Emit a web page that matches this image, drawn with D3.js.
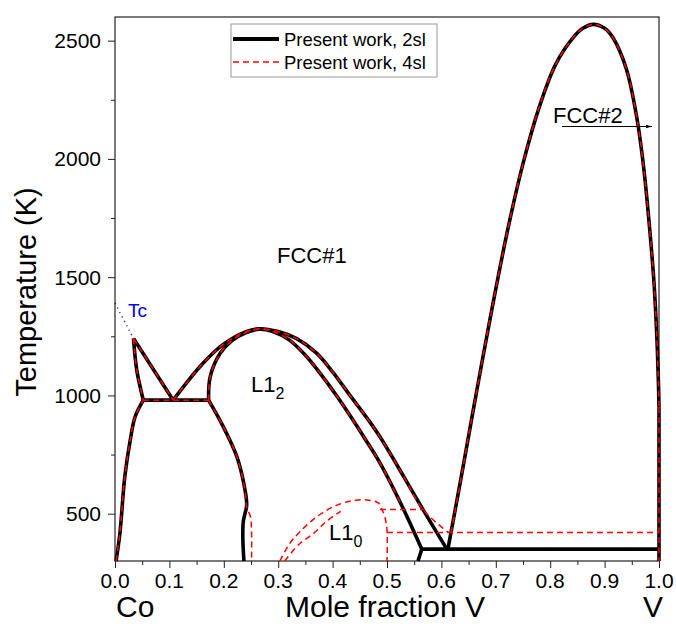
<!DOCTYPE html>
<html>
<head>
<meta charset="utf-8">
<script src="https://cdn.jsdelivr.net/npm/d3@7"></script>
<style>
  body { margin: 0; background: #fff; }
  svg { font-family: "Liberation Sans", Arial, sans-serif; }
</style>
</head>
<body>
<svg id="chart" width="676" height="626"></svg>
<script>
// phase boundaries, [mole fraction V, T in K]
const leftSolvus = [[0.002,300],[0.009,417],[0.018,656],[0.028,811],[0.037,910],[0.052,980]];
const triLeft = [[0.034,1241],[0.04,1107],[0.052,980]];
const triRight = [[0.034,1241],[0.107,980]];
const eutectoid = [[0.052,980],[0.172,980]];
const lowerBranch2sl = [[0.172,980],[0.199,868],[0.224,741],[0.239,600],[0.242,535],[0.236,470],[0.235,400],[0.237,300]];
const lowerBranch4sl = [[0.172,980],[0.199,868],[0.224,741],[0.239,600],[0.242,529],[0.249,487],[0.251,420],[0.251,300]];
const outerL12 = [[0.107,980],[0.156,1121],[0.193,1205],[0.217,1243],[0.242,1271],[0.265,1282],[0.30,1270],[0.334,1240],[0.37,1180],[0.40,1100],[0.432,1000],[0.463,905],[0.487,825],[0.53,660],[0.566,518],[0.61,350]];
const innerL12 = [[0.172,980],[0.175,1079],[0.193,1177],[0.215,1232],[0.24,1265],[0.265,1280],[0.29,1270],[0.32,1235],[0.35,1170],[0.38,1085],[0.41,990],[0.432,915],[0.46,815],[0.487,715],[0.526,540],[0.564,350]];
const innerStub = [[0.564,350],[0.557,300]];
const eutectoid350 = [[0.564,350],[1.0,350]];
const fcc2Dome = [[0.612,350],[0.64,700],[0.665,1020],[0.69,1330],[0.72,1680],[0.75,1980],[0.78,2220],[0.81,2400],[0.843,2515],[0.86,2552],[0.879,2569],[0.90,2552],[0.916,2510],[0.94,2380],[0.959,2177],[0.972,1960],[0.983,1700],[0.991,1470],[0.996,1250],[0.999,1050],[1.0,950]];
const rightEdge = [[1.0,950],[1.0,300]];
// 4sl-only features
const outerTail4sl = [[0.566,518],[0.613,420]];
const fcc2Start4sl = [0.618,420];
const l10Outer = [[0.303,300],[0.32,370],[0.34,424],[0.371,487],[0.401,529],[0.432,553],[0.463,558],[0.484,546],[0.49,522],[0.496,487],[0.5,431],[0.5,300]];
const l10Inner = [[0.312,300],[0.338,370],[0.365,417],[0.39,470],[0.415,510]];
const line518 = [[0.487,518],[0.57,518]];
const line420 = [[0.5,420],[1.0,420]];
const tcLine = [[0.0,1390],[0.034,1241]];

const xTicks = [0,0.1,0.2,0.3,0.4,0.5,0.6,0.7,0.8,0.9,1.0];
const yTicks = [500,1000,1500,2000,2500];

const svg = d3.select("#chart");
const x = d3.scaleLinear().domain([0,1]).range([115,659]);
const y = d3.scaleLinear().domain([300,2600]).range([561,17]);

const line = d3.line().x(d => x(d[0])).y(d => y(d[1])).curve(d3.curveCatmullRom.alpha(0.5));
const straight = d3.line().x(d => x(d[0])).y(d => y(d[1]));

// frame
svg.append("rect").attr("x",115).attr("y",17).attr("width",544).attr("height",544)
  .attr("fill","none").attr("stroke","#222").attr("stroke-width",1.2);

// axes
const xAxis = d3.axisBottom(x).tickValues(d3.range(0,1.0001,0.05)).tickSize(7).tickFormat("");
svg.append("g").attr("transform","translate(0,561)").call(xAxis)
  .call(g => g.select(".domain").remove())
  .call(g => g.selectAll(".tick line").attr("stroke","#222").attr("y2",(d,i)=> i%2 ? 4 : 7));
svg.append("g").selectAll("text").data(xTicks).join("text")
  .attr("x",d => x(d)).attr("y",588).attr("text-anchor","middle")
  .attr("font-size",21).text(d => d.toFixed(1));

const yAxis = d3.axisLeft(y).tickValues(d3.range(500,2501,250)).tickSize(7).tickFormat("");
svg.append("g").attr("transform","translate(115,0)").call(yAxis)
  .call(g => g.select(".domain").remove())
  .call(g => g.selectAll(".tick line").attr("stroke","#222").attr("x2",(d,i)=> i%2 ? -4 : -7));
svg.append("g").selectAll("text").data(yTicks).join("text")
  .attr("x",101).attr("y",d => y(d)+7.5).attr("text-anchor","end")
  .attr("font-size",21).text(d => d);

svg.append("text").attr("transform","translate(36,292) rotate(-90)")
  .attr("text-anchor","middle").attr("font-size",29).text("Temperature (K)");
svg.append("text").attr("x",385).attr("y",617).attr("text-anchor","middle").attr("font-size",30).text("Mole fraction V");
svg.append("text").attr("x",116).attr("y",617).attr("font-size",30).text("Co");
svg.append("text").attr("x",653).attr("y",617).attr("text-anchor","middle").attr("font-size",30).text("V");

// 2sl (black, thick)
const black = [leftSolvus, triLeft, triRight, eutectoid, lowerBranch2sl, outerL12, innerL12, innerStub, eutectoid350, fcc2Dome, rightEdge];
svg.append("g").selectAll("path").data(black).join("path")
  .attr("d", d => d.length > 2 ? line(d) : straight(d))
  .attr("fill","none").attr("stroke","#000").attr("stroke-width",3.6)
  .attr("stroke-linejoin","round");

// 4sl (red, dashed)
const red = [leftSolvus, triLeft, triRight, eutectoid, lowerBranch4sl,
  outerL12.filter(d => d[1] >= 518).concat(outerTail4sl.slice(1)),
  innerL12.filter(d => d[1] >= 540),
  [fcc2Start4sl].concat(fcc2Dome.slice(1)), rightEdge,
  l10Outer, l10Inner, line518, line420];
svg.append("g").selectAll("path").data(red).join("path")
  .attr("d", d => d.length > 2 ? line(d) : straight(d))
  .attr("fill","none").attr("stroke","#f00").attr("stroke-width",1.5)
  .attr("stroke-dasharray","6,4");

// Tc
svg.append("path").attr("d",straight(tcLine)).attr("fill","none")
  .attr("stroke","#00f").attr("stroke-width",1.5).attr("stroke-dasharray","1,4");
svg.append("text").attr("x",128).attr("y",317).attr("fill","#00f").attr("font-size",19).text("Tc");

// phase labels
svg.append("text").attr("x",277).attr("y",263).attr("font-size",22).text("FCC#1");
svg.append("text").attr("x",251).attr("y",392).attr("font-size",22).text("L1")
  .append("tspan").attr("dy",7).attr("font-size",16).text("2");
svg.append("text").attr("x",329).attr("y",540).attr("font-size",22).text("L1")
  .append("tspan").attr("dy",7).attr("font-size",16).text("0");
svg.append("text").attr("x",553).attr("y",123).attr("font-size",22).text("FCC#2");
svg.append("defs").append("marker").attr("id","arr").attr("viewBox","0 0 10 10")
  .attr("refX",10).attr("refY",5).attr("markerWidth",8).attr("markerHeight",6)
  .attr("orient","auto").append("path").attr("d","M0,2L10,5L0,8z").attr("fill","#000");
svg.append("line").attr("x1",562).attr("x2",652).attr("y1",126.5).attr("y2",126.5)
  .attr("stroke","#000").attr("stroke-width",1).attr("marker-end","url(#arr)");

// legend
const lg = svg.append("g");
lg.append("rect").attr("x",231).attr("y",24).attr("width",206).attr("height",53)
  .attr("fill","#fff").attr("stroke","#999").attr("stroke-width",1);
lg.append("line").attr("x1",233).attr("x2",279).attr("y1",39).attr("y2",39)
  .attr("stroke","#000").attr("stroke-width",4);
lg.append("line").attr("x1",233).attr("x2",279).attr("y1",62).attr("y2",62)
  .attr("stroke","#f00").attr("stroke-width",1.5).attr("stroke-dasharray","6,4");
lg.append("text").attr("x",284).attr("y",46).attr("font-size",18.5).text("Present work, 2sl");
lg.append("text").attr("x",284).attr("y",69).attr("font-size",18.5).text("Present work, 4sl");
</script>
</body>
</html>
